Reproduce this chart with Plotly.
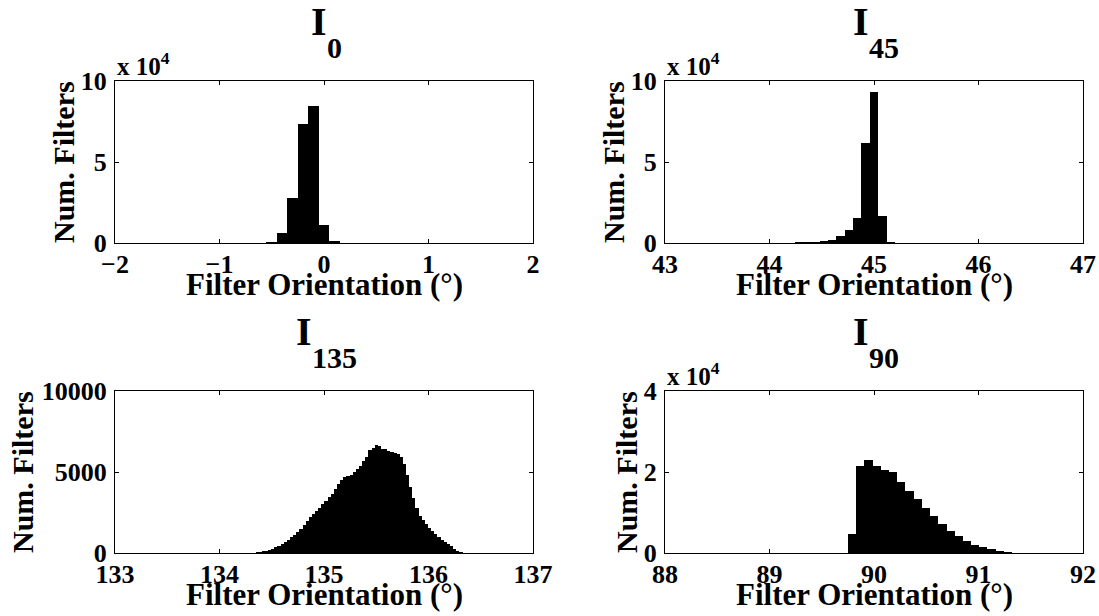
import plotly.graph_objects as go
from plotly.subplots import make_subplots

# ---------------- data ----------------
i0_centers = [-0.5, -0.4, -0.3, -0.2, -0.1, 0.0, 0.1]
i0_counts = [400, 6100, 27600, 73200, 84800, 11000, 1200]

i45_centers = [44.28, 44.36, 44.44, 44.52, 44.60, 44.68, 44.76, 44.84, 44.92, 45.00, 45.08, 45.16]
i45_counts = [100, 200, 400, 800, 2000, 4100, 7800, 15600, 61700, 93400, 16800, 300]

i135_centers = [134.36, 134.39, 134.42, 134.45, 134.48, 134.51, 134.54, 134.57, 134.60, 134.63,
                134.66, 134.69, 134.72, 134.75, 134.78, 134.81, 134.84, 134.87, 134.90, 134.93,
                134.96, 134.99, 135.02, 135.05, 135.08, 135.11, 135.14, 135.17, 135.20, 135.23,
                135.26, 135.29, 135.32, 135.35, 135.38, 135.41, 135.44, 135.47, 135.50, 135.53,
                135.56, 135.59, 135.62, 135.65, 135.68, 135.71, 135.74, 135.77, 135.80, 135.83,
                135.86, 135.89, 135.92, 135.95, 135.98, 136.01, 136.04, 136.07, 136.10, 136.13,
                136.16, 136.19, 136.22, 136.25, 136.28, 136.31]
i135_counts = [20, 50, 90, 130, 170, 250, 340, 440, 560, 700,
               830, 960, 1130, 1310, 1500, 1720, 1960, 2200, 2400, 2600,
               2800, 3000, 3200, 3450, 3650, 3950, 4250, 4500, 4680, 4780,
               4800, 5000, 5200, 5350, 5650, 5950, 6350, 6500, 6650, 6600,
               6450, 6400, 6300, 6250, 6150, 6100, 5900, 5500, 4800, 4100,
               3400, 2800, 2300, 2050, 1800, 1550, 1350, 1150, 980, 820,
               680, 560, 420, 250, 120, 40]

i90_centers = [89.790, 89.869, 89.947, 90.026, 90.104, 90.183, 90.261, 90.340, 90.418, 90.497,
               90.575, 90.654, 90.732, 90.811, 90.889, 90.968, 91.046, 91.125, 91.203, 91.282]
i90_counts = [4700, 21400, 23000, 21500, 20600, 19900, 17600, 15300, 13300, 11200,
              9200, 7100, 5500, 4100, 2900, 2100, 1400, 900, 500, 200]

panel_titles = [("I", "0"), ("I", "45"), ("I", "135"), ("I", "90")]
x_ranges = [[-2, 2], [43, 47], [133, 137], [88, 92]]
x_ticks = [[-2, -1, 0, 1, 2], [43, 44, 45, 46, 47], [133, 134, 135, 136, 137], [88, 89, 90, 91, 92]]
y_ranges = [[0, 100000], [0, 100000], [0, 10000], [0, 40000]]
y_tickvals = [[0, 50000, 100000], [0, 50000, 100000], [0, 5000, 10000], [0, 20000, 40000]]
y_ticktext = [["0", "5", "10"], ["0", "5", "10"], ["0", "5000", "10000"], ["0", "2", "4"]]
y_multiplier = ["x 10", "x 10", None, "x 10"]
x_title = "Filter Orientation (°)"
y_title = "Num. Filters"

# ---------------- layout geometry (pixels) ----------------
W, H = 1099, 616
FONT = "Liberation Serif"
col_x = [(115, 533), (665, 1083)]
row_y = [(81, 243), (391, 553)]
panel_pos = [(0, 0), (0, 1), (1, 0), (1, 1)]
bar_widths = [0.101, 0.081, 0.031, 0.080]
ytitle_x = [63, 613, 22, 626]

def px_x(x):
    return x / W

def px_y(y):
    return 1 - y / H

fig = make_subplots(rows=2, cols=2)

series = [
    (i0_centers, i0_counts),
    (i45_centers, i45_counts),
    (i135_centers, i135_counts),
    (i90_centers, i90_counts),
]

for k, (cx, cy) in enumerate(series):
    r, c = panel_pos[k]
    fig.add_trace(
        go.Bar(x=cx, y=cy, width=bar_widths[k], marker=dict(color="black", line=dict(width=0)),
               showlegend=False, hoverinfo="x+y"),
        row=r + 1, col=c + 1,
    )

annotations = []
for k in range(4):
    r, c = panel_pos[k]
    x0, x1 = col_x[c]
    y0, y1 = row_y[r]
    axn = "" if k == 0 else str(k + 1)
    fig.layout["xaxis" + axn].update(
        domain=[px_x(x0), px_x(x1)], range=x_ranges[k], tickvals=x_ticks[k],
        showline=True, linecolor="black", linewidth=1.2, mirror="ticks",
        ticks="inside", ticklen=4, tickwidth=1, tickcolor="black",
        showgrid=False, zeroline=False, automargin=False, ticklabelstandoff=-2,
        tickfont=dict(family=FONT, size=26, color="black", weight="bold"),
    )
    fig.layout["yaxis" + axn].update(
        domain=[px_y(y1), px_y(y0)], range=y_ranges[k], tickvals=y_tickvals[k],
        ticktext=y_ticktext[k],
        showline=True, linecolor="black", linewidth=1.2, mirror="ticks",
        ticks="inside", ticklen=4, tickwidth=1, tickcolor="black",
        showgrid=False, zeroline=False, automargin=False, ticklabelstandoff=2,
        tickfont=dict(family=FONT, size=26, color="black", weight="bold"),
    )
    xc = (x0 + x1) / 2
    main, sub = panel_titles[k]
    w_main = 16.0
    w_sub = 15.0 * len(sub)
    start = xc - (w_main + w_sub) / 2
    annotations.append(dict(
        text=main, x=px_x(start), xanchor="left", y=px_y(y0 - 59.5), yanchor="middle",
        xref="paper", yref="paper", showarrow=False,
        font=dict(family=FONT, size=40, color="black", weight="bold")))
    annotations.append(dict(
        text=sub, x=px_x(start + w_main), xanchor="left", y=px_y(y0 - 33.5), yanchor="middle",
        xref="paper", yref="paper", showarrow=False,
        font=dict(family=FONT, size=30, color="black", weight="bold")))
    annotations.append(dict(
        text=x_title, x=px_x(xc), xanchor="center", y=px_y(y1 + 41), yanchor="middle",
        xref="paper", yref="paper", showarrow=False,
        font=dict(family=FONT, size=31, color="black", weight="bold")))
    annotations.append(dict(
        text=y_title, x=px_x(ytitle_x[k]), xanchor="center", y=px_y((y0 + y1) / 2),
        yanchor="middle", textangle=-90, xref="paper", yref="paper", showarrow=False,
        font=dict(family=FONT, size=30, color="black", weight="bold")))
    if y_multiplier[k]:
        annotations.append(dict(
            text=y_multiplier[k] + "<sup>4</sup>", x=px_x(x0), xanchor="left",
            y=px_y(y0 + 1), yanchor="bottom",
            xref="paper", yref="paper", showarrow=False,
            font=dict(family=FONT, size=25, color="black", weight="bold")))

fig.update_layout(
    width=W, height=H, autosize=False,
    margin=dict(l=0, r=0, t=0, b=0, pad=0, autoexpand=False),
    paper_bgcolor="white", plot_bgcolor="white",
    bargap=0,
    annotations=annotations,
    font=dict(family=FONT, color="black"),
)

fig.write_html(
    "out.html",
    config={"displayModeBar": False},
    post_script="document.body.style.margin='0';document.body.style.overflow='hidden';",
)
